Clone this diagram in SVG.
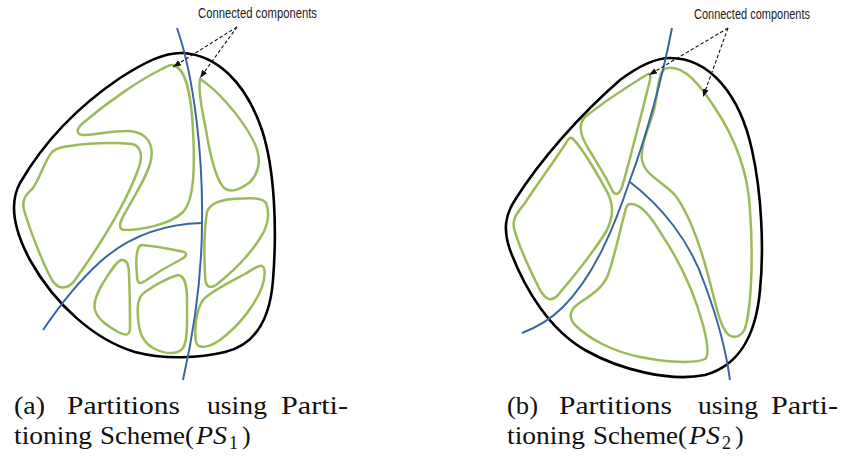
<svg xmlns="http://www.w3.org/2000/svg" width="842" height="456" viewBox="0 0 842 456">
  <style>
    .outline { fill: none; stroke: #000; stroke-width: 2.6; stroke-linejoin: round; }
    .region  { fill: none; stroke: #9BBB59; stroke-width: 2.5; stroke-linejoin: round; }
    .cut     { fill: none; stroke: #3A66A0; stroke-width: 2; stroke-linecap: butt; }
    .pointer { fill: none; stroke: #111; stroke-width: 1.1; stroke-dasharray: 3.5 2.2; marker-end: url(#tip); }
    .note    { font-family: "Liberation Sans Narrow", "Liberation Sans", Arial, sans-serif; font-size: 14px; fill: #222; }
    .caption text { font-family: "Liberation Serif", "Times New Roman", serif; font-size: 26px; fill: #111; }
    .math    { font-style: italic; }
    .sub     { font-size: 18px; }
  </style>
  <defs>
    <marker id="tip" viewBox="0 0 8 6" refX="8" refY="3" markerWidth="8" markerHeight="6" markerUnits="userSpaceOnUse" orient="auto">
      <path d="M0,0 L8,3 L0,6 Z" fill="#111"/>
    </marker>
  </defs>

  <!-- Panel (a): partitioning scheme PS1 -->
  <g id="panel-a">
    <g id="a-boundary">
      <path class="outline" d="M183,53 C215,55 245,80 262,130 C275,170 277,230 273,280 C270,320 255,345 225,352 C200,358 165,360 135,352 C95,340 55,305 30,260 C15,232 8,205 20,183 C45,140 80,105 120,78 C145,62 165,52 183,53 Z"/>
    </g>
    <g id="a-components">
      <path id="a-c1" class="region" d="M173,65 C185,68 191,90 193,130 C195,170 194,200 183,212 C170,225 140,230 125,230 C118,230 119,223 125,213 C135,195 148,175 151,160 C154,145 148,133 130,131 C115,130 95,135 85,135 C75,135 76,129 83,123 C110,100 140,80 160,70 C166,67 170,64 173,65 Z"/>
      <path id="a-c2" class="region" d="M63,147 C85,143 115,142 132,144 C142,146 143,158 138,170 C125,205 100,245 75,280 C68,290 58,290 52,280 C42,262 30,230 24,210 C21,198 28,193 33,188 C40,178 45,160 52,152 C56,148 59,148 63,147 Z"/>
      <path id="a-c3" class="region" d="M200,79 C215,88 240,115 253,140 C262,157 260,172 250,182 C240,190 230,193 224,188 C215,178 210,155 206,130 C202,110 198,90 200,79 Z"/>
      <path id="a-c4" class="region" d="M207,212 C210,203 220,200 233,199 C250,198 262,197 266,203 C270,212 268,225 262,235 C252,252 235,270 216,285 C208,290 205,285 205,275 C204,255 204,230 207,212 Z"/>
      <path id="a-c5" class="region" d="M262,266 C266,268 265,278 262,287 C255,305 240,325 220,340 C210,347 198,350 196,342 C194,330 196,310 203,300 C210,292 228,283 245,274 C253,269 259,265 262,266 Z"/>
      <path id="a-c6" class="region" d="M142,245 C155,246 175,250 184,252 C188,254 186,257 180,260 C170,265 155,274 145,281 C139,285 137,283 137,275 C136,265 136,255 138,249 C139,246 140,245 142,245 Z"/>
      <path id="a-c7" class="region" d="M178,275 C185,276 187,285 187,300 C187,320 188,340 183,348 C178,355 165,354 155,349 C143,343 139,333 138,318 C137,305 138,297 145,292 C155,285 168,278 178,275 Z"/>
      <path id="a-c8" class="region" d="M121,260 C127,259 129,265 129,275 C130,295 130,315 130,328 C130,336 125,336 118,332 C108,326 98,320 95,310 C93,302 97,293 103,283 C110,272 116,262 121,260 Z"/>
    </g>
    <g id="a-cuts">
      <path class="cut" d="M177,28 C195,80 203,160 202,222 C202,280 192,340 183,380"/>
      <path class="cut" d="M202,223 C165,224 130,235 100,262 C80,280 60,305 43,330"/>
    </g>
    <g id="a-label">
      <text class="note" x="198" y="18" textLength="119" lengthAdjust="spacingAndGlyphs">Connected components</text>
    </g>
  </g>

  <!-- Panel (b): partitioning scheme PS2 -->
  <g id="panel-b">
    <g id="b-boundary">
      <path class="outline" d="M670,58 C710,58 740,95 752,150 C762,195 764,250 760,290 C756,335 740,365 705,375 C670,382 620,370 585,350 C550,330 525,290 510,250 C503,230 505,215 515,200 C540,160 580,115 620,80 C640,65 655,58 670,58 Z"/>
    </g>
    <g id="b-components">
      <path id="b-c1" class="region" d="M648,74 C630,85 600,105 585,117 C578,124 580,135 588,148 C597,163 607,178 612,190 C615,196 619,195 622,187 C630,160 640,120 650,80 C651,76 650,73 648,74 Z"/>
      <path id="b-c2" class="region" d="M572,138 C580,145 595,170 605,188 C614,203 614,215 607,230 C595,250 575,275 558,295 C551,302 546,300 540,290 C530,270 518,245 514,228 C512,218 518,212 525,203 C538,183 555,160 566,143 C568,139 570,137 572,138 Z"/>
      <path id="b-c3" class="region" d="M668,68 C685,66 700,85 715,108 C735,138 748,170 750,210 C753,250 752,300 746,325 C743,338 732,340 726,332 C718,320 715,300 708,275 C700,245 690,215 675,195 C660,180 645,175 642,160 C640,145 650,125 654,110 C658,95 657,80 662,72 C664,69 666,68 668,68 Z"/>
      <path id="b-c4" class="region" d="M630,204 C640,203 650,215 662,235 C680,262 695,295 703,325 C707,340 710,355 705,359 C695,364 665,362 640,357 C615,352 590,340 575,325 C568,317 570,310 578,304 C590,296 603,288 608,275 C615,255 620,230 625,212 C626,206 628,204 630,204 Z"/>
    </g>
    <g id="b-cuts">
      <path class="cut" d="M672,28 C662,80 645,140 630,180 C615,225 595,275 563,307 C550,320 535,328 522,333"/>
      <path class="cut" d="M630,182 C660,205 690,240 705,285 C718,320 726,350 730,380"/>
    </g>
    <g id="b-label">
      <text class="note" x="694" y="19" textLength="116" lengthAdjust="spacingAndGlyphs">Connected components</text>
    </g>
  </g>

  <!-- dashed pointers from the labels to the components -->
  <g id="connectors">
    <path class="pointer" d="M237,27 L173,67"/>
    <path class="pointer" d="M237,27 L200,78"/>
    <path class="pointer" d="M728,28 L649,75"/>
    <path class="pointer" d="M728,28 L703,97"/>
  </g>

  <!-- sub-figure captions -->
  <g id="caption-a" class="caption">
    <text y="414"><tspan x="14" textLength="31" lengthAdjust="spacingAndGlyphs">(a)</tspan><tspan x="67" textLength="113" lengthAdjust="spacingAndGlyphs">Partitions</tspan><tspan x="207" textLength="60" lengthAdjust="spacingAndGlyphs">using</tspan><tspan x="281" textLength="67" lengthAdjust="spacingAndGlyphs">Parti-</tspan></text>
    <text y="444"><tspan x="14" textLength="78" lengthAdjust="spacingAndGlyphs">tioning</tspan><tspan x="100" textLength="94" lengthAdjust="spacingAndGlyphs">Scheme(</tspan><tspan x="196" class="math" textLength="31" lengthAdjust="spacingAndGlyphs">PS</tspan><tspan x="229" y="449" class="sub">1</tspan><tspan x="242" y="444">)</tspan></text>
  </g>
  <g id="caption-b" class="caption">
    <text y="414"><tspan x="507" textLength="31" lengthAdjust="spacingAndGlyphs">(b)</tspan><tspan x="559" textLength="113" lengthAdjust="spacingAndGlyphs">Partitions</tspan><tspan x="698" textLength="60" lengthAdjust="spacingAndGlyphs">using</tspan><tspan x="771" textLength="67" lengthAdjust="spacingAndGlyphs">Parti-</tspan></text>
    <text y="444"><tspan x="507" textLength="78" lengthAdjust="spacingAndGlyphs">tioning</tspan><tspan x="593" textLength="94" lengthAdjust="spacingAndGlyphs">Scheme(</tspan><tspan x="689" class="math" textLength="31" lengthAdjust="spacingAndGlyphs">PS</tspan><tspan x="722" y="449" class="sub">2</tspan><tspan x="735" y="444">)</tspan></text>
  </g>
</svg>
